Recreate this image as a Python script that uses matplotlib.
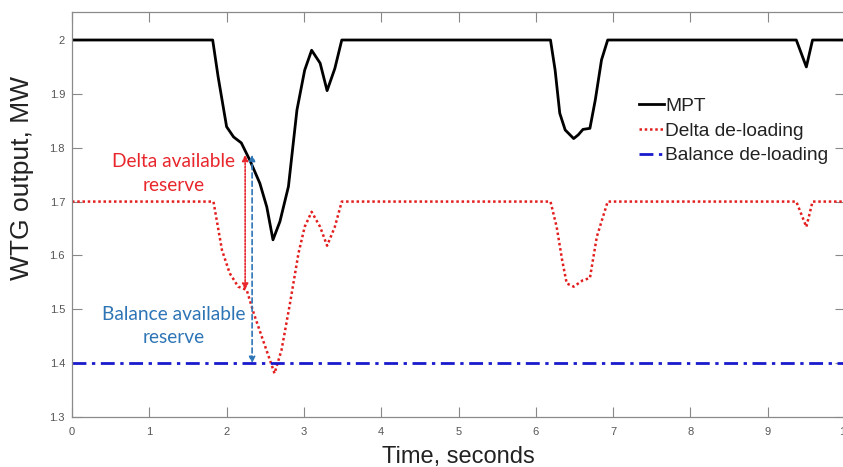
import matplotlib
matplotlib.use('Agg')
import matplotlib.pyplot as plt

# output power traces (time in s, power in MW)
t_mpt = [0, 1.82, 1.89, 2.00, 2.09, 2.19, 2.30, 2.43, 2.52, 2.60, 2.69, 2.80, 2.91,
         3.01, 3.10, 3.21, 3.30, 3.40, 3.49, 6.19, 6.25, 6.31, 6.38, 6.49, 6.55,
         6.61, 6.70, 6.77, 6.85, 6.93, 9.37, 9.50, 9.58, 10]
p_mpt = [2.0, 2.0, 1.932, 1.839, 1.820, 1.809, 1.777, 1.734, 1.690, 1.629, 1.663,
         1.728, 1.870, 1.944, 1.981, 1.957, 1.906, 1.947, 2.0, 2.0, 1.944, 1.864,
         1.833, 1.817, 1.824, 1.834, 1.836, 1.889, 1.963, 2.0, 2.0, 1.950, 2.0, 2.0]

t_delta = [0, 1.83, 1.94, 2.04, 2.15, 2.26, 2.35, 2.47, 2.62, 2.71, 2.82, 2.93,
           3.01, 3.10, 3.21, 3.30, 3.40, 3.49, 6.19, 6.27, 6.34, 6.40, 6.49, 6.61,
           6.70, 6.79, 6.93, 9.37, 9.50, 9.58, 10]
p_delta = [1.7, 1.7, 1.61, 1.567, 1.542, 1.536, 1.493, 1.443, 1.381, 1.424, 1.511,
           1.604, 1.653, 1.681, 1.653, 1.618, 1.653, 1.7, 1.7, 1.653, 1.592, 1.548,
           1.542, 1.554, 1.558, 1.635, 1.7, 1.7, 1.653, 1.7, 1.7]

t_bal = [0, 10]
p_bal = [1.4, 1.4]

# reserve markers
t_delta_arrow = 2.24
delta_arrow_span = (1.536, 1.787)
t_bal_arrow = 2.33
bal_arrow_span = (1.40, 1.787)

sans = ['Liberation Sans', 'DejaVu Sans']
red_txt = '#e8262c'
blue_txt = '#2e75b6'

fig = plt.figure(figsize=(8.43, 4.67), dpi=100)
ax = fig.add_axes([72/843, 1-417/467, 773/843, 405/467])

ax.plot(t_mpt, p_mpt, color='black', lw=2, label='MPT')
ax.plot(t_delta, p_delta, color='#e31e1e', lw=1.8, ls=(0, (1, 1.1)), label='Delta de-loading')
ax.plot(t_bal, p_bal, color='#1a1acd', lw=2, ls=(0, (5, 2, 1.2, 2)), label='Balance de-loading')

ax.annotate('', xy=(t_delta_arrow, delta_arrow_span[1]), xytext=(t_delta_arrow, delta_arrow_span[0]),
            arrowprops=dict(arrowstyle='<|-|>', color=red_txt, lw=1.2, ls=(0, (1, 1)),
                            mutation_scale=9, shrinkA=0, shrinkB=0))
ax.annotate('', xy=(t_bal_arrow, bal_arrow_span[1]), xytext=(t_bal_arrow, bal_arrow_span[0]),
            arrowprops=dict(arrowstyle='<|-|>', color=blue_txt, lw=1.2, ls=(0, (3, 2)),
                            mutation_scale=9, shrinkA=0, shrinkB=0))

ax.text(1.31, 1.752, 'Delta available\nreserve', color=red_txt, fontsize=13.8,
        family=['Lato', 'DejaVu Sans'], ha='center', va='center', linespacing=1.45)
ax.text(1.31, 1.469, 'Balance available\nreserve', color=blue_txt, fontsize=13.8,
        family=['Lato', 'DejaVu Sans'], ha='center', va='center', linespacing=1.45)

ax.set_xlim(0, 10)
ax.set_ylim(1.3, 2.052)
ax.set_xticks(range(0, 11))
ax.set_yticks([1.3, 1.4, 1.5, 1.6, 1.7, 1.8, 1.9, 2.0])
ax.set_yticklabels(['1.3', '1.4', '1.5', '1.6', '1.7', '1.8', '1.9', '2'])
ax.tick_params(direction='in', length=7, width=0.8, color='#888888', labelcolor='#555555',
               labelsize=8, top=True, right=True)
ax.tick_params(axis='x', pad=7)
ax.tick_params(axis='y', pad=5)
for lab in ax.get_xticklabels() + ax.get_yticklabels():
    lab.set_family(sans)
for s in ax.spines.values():
    s.set_color('#8a8a8a')
    s.set_linewidth(0.9)

ax.set_xlabel('Time, seconds', fontsize=17, family=sans, color='#222222')
ax.xaxis.set_label_coords(0.5, -0.072)
ax.set_ylabel('WTG output, MW', fontsize=19, family=sans, color='#222222')
ax.yaxis.set_label_coords(-0.049, 0.59)

leg = ax.legend(loc='upper left', bbox_to_anchor=(629/843, 1-88/467),
                bbox_transform=fig.transFigure, frameon=False, borderpad=0,
                handlelength=1.35, handletextpad=0.05, labelspacing=0.38,
                prop={'family': sans, 'size': 13.8})
for txt in leg.get_texts():
    txt.set_color('#222222')

fig.savefig('out.png', dpi=100)
